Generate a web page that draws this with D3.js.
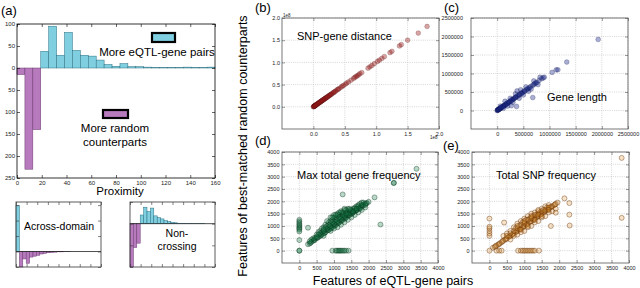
<!DOCTYPE html>
<html>
<head>
<meta charset="utf-8">
<script src="https://cdn.jsdelivr.net/npm/d3@7"></script>
<style>
body { margin: 0; background: #fff; }
svg { display: block; font-family: "Liberation Sans", Arial, sans-serif; }
</style>
</head>
<body>
<svg id="fig" width="640" height="288"></svg>
<script>
// (a) proximity histogram, positive = more eQTL-gene pairs, negative = more random counterparts
const binWidth = 6.4;
const proximityCounts = [-15, -230, -140, 38, 95, 29, 81, 40, 29, 27, 18, 8, 4, 10, 3, 3, 2, 1, 1, 1, 1, 2, 1, 1, 2];
const acrossCounts = [148, -50, -24, -38, -18, -15, -12, -8, -6, -4, -3, -2, -1, -1, -0.5, -0.5, 0, 0, 0, 0, 0, 0, 0, 0, 0];
const nonCrossCounts = [-100, -55, -45, 20, 38, 28, 36, 18, 14, 11, 7, 5, 3, 2, 1, 1, 0.5, 0.5, 0.3, 0.3, 0.2, 0.2, 0, 0, 0];
const proxXTicks = [0, 20, 40, 60, 80, 100, 120, 140, 160];
const proxYTicks = [-250, -200, -150, -100, -50, 0, 50, 100];

// (b)-(e) feature of eQTL-gene pair vs best-matched random counterpart
const distTicks = [0, 0.5, 1, 1.5, 2];
const lenTicks = [0, 500000, 1000000, 1500000, 2000000, 2500000];
const freqTicks = [0, 500, 1000, 1500, 2000, 2500, 3000, 3500, 4000];

const snpDistPts = [
  [0,0],[0.005,0.004],[0.01,0.012],[0.015,0.014],[0.02,0.02],[0.025,0.027],[0.03,0.03],[0.04,0.038],
  [0.05,0.05],[0.06,0.061],[0.07,0.07],[0.08,0.082],[0.09,0.09],[0.1,0.1],[0.11,0.112],[0.12,0.12],
  [0.13,0.13],[0.14,0.142],[0.15,0.15],[0.16,0.16],[0.175,0.176],[0.19,0.19],[0.2,0.2],[0.215,0.214],
  [0.23,0.232],[0.245,0.245],[0.26,0.26],[0.275,0.276],[0.29,0.29],[0.31,0.31],[0.33,0.33],[0.36,0.36],
  [0.38,0.385],[0.41,0.41],[0.44,0.44],[0.46,0.465],[0.48,0.48],[0.51,0.51],[0.53,0.535],[0.56,0.56],
  [0.6,0.6],[0.64,0.64],[0.66,0.665],[0.68,0.68],[0.7,0.7],[0.72,0.72],[0.74,0.745],[0.77,0.77],
  [0.87,0.87],[0.9,0.9],[0.93,0.93],[0.97,0.97],[1.02,1.02],[1.05,1.05],[1.09,1.09],[1.13,1.13],
  [1.22,1.22],[1.25,1.25],[1.37,1.37],[1.4,1.4],[1.5,1.5],[1.67,1.66],[1.81,1.81],
  [0.008,0.008],[0.018,0.017],[0.035,0.036],[0.045,0.046],[0.065,0.064],[0.085,0.086],[0.105,0.104],
  [0.125,0.126],[0.145,0.145],[0.168,0.167],[0.183,0.184],[0.205,0.206],[0.222,0.222],[0.252,0.25],
  [0.28,0.281],[0.32,0.32],[0.345,0.346],[0.395,0.395]
];

const geneLenPts = [
  [0,0],[5000,8000],[10000,10000],[15000,20000],[20000,18000],[25000,30000],[30000,28000],[40000,45000],
  [50000,50000],[60000,55000],[70000,75000],[80000,80000],[90000,95000],[100000,100000],[115000,110000],
  [130000,135000],[150000,145000],[165000,170000],[180000,180000],[200000,205000],[220000,215000],
  [240000,245000],[260000,255000],[280000,290000],[300000,300000],[320000,315000],[340000,345000],
  [360000,360000],[380000,385000],[400000,400000],[430000,420000],[450000,460000],[480000,480000],
  [500000,500000],[530000,520000],[560000,570000],[600000,600000],[640000,650000],[680000,680000],
  [720000,730000],[760000,760000],[800000,810000],[850000,860000],[880000,880000],
  [35000,30000],[55000,65000],[75000,70000],[110000,120000],[140000,130000],[170000,160000],
  [190000,200000],[230000,230000],[270000,265000],[310000,310000],[350000,355000],[420000,430000],
  [470000,470000],[520000,530000],[580000,580000],[620000,615000],[700000,700000],[740000,745000],
  [60000,120000],[120000,60000],[200000,120000],[250000,330000],[300000,220000],[350000,450000],
  [380000,530000],[420000,330000],[450000,560000],[500000,420000],[550000,640000],[600000,520000],
  [650000,580000],[700000,800000],[780000,700000],[820000,900000],[900000,900000],[150000,250000],
  [270000,130000],[370000,110000],[680000,350000],
  [1050000,1030000],[1130000,1100000],[1160000,1100000],[1330000,1310000],[1930000,1920000]
];

const geneFreqPts = [
  [250,260],[300,290],[350,360],[400,400],[450,440],[500,510],[550,550],[600,590],[650,660],[700,700],
  [750,740],[800,810],[850,850],[900,890],[950,960],[1000,1000],[1050,1040],[1100,1110],[1150,1150],
  [1200,1190],[1250,1260],[1300,1300],[1350,1340],[1400,1410],[1450,1450],[1500,1490],[1550,1560],
  [1600,1600],[1650,1640],[1700,1710],[1750,1750],[1800,1790],[1850,1860],[1900,1900],[1950,1930],[2000,1980],
  [325,320],[425,430],[525,520],[625,630],[725,720],[825,830],[925,920],[1025,1030],[1125,1120],
  [1225,1230],[1325,1320],[1425,1430],[1525,1520],[1625,1630],[1725,1720],[1825,1830],[1925,1920],
  [500,650],[550,750],[600,800],[650,900],[700,950],[750,1050],[800,1000],[850,1150],[900,1100],[950,1250],
  [1000,1200],[1050,1350],[1100,1300],[1150,1450],[1200,1400],[1250,1500],[1300,1450],[1350,1550],
  [1400,1600],[1450,1550],[1500,1650],[1550,1700],[1600,1750],[1650,1800],[1700,1850],[1750,1900],
  [1800,1950],[1850,1950],[700,600],[900,800],[1100,950],[1300,1150],[1500,1350],[1700,1550],[1900,1750],
  [800,1200],[900,1350],[1000,1450],[1100,1500],[1200,1550],[1300,1650],[1400,1700],[1000,900],
  [1200,1050],[1400,1250],[1600,1450],[1800,1650],[650,750],[750,850],[850,950],[950,1050],[1050,1150],
  [1150,1250],[1250,1350],[1350,1450],[1450,1500],[1550,1550],[1650,1650],[1750,1700],[400,500],
  [350,450],[300,380],
  [600,700],[700,800],[800,900],[900,1000],[1000,1100],[1100,1200],[1200,1300],[1300,1400],[1400,1500],
  [1500,1600],[1600,1700],[1700,1800],[1800,1850],[1900,1850],[750,950],[850,1050],[950,1150],
  [1050,1250],[1150,1350],[1250,1450],[1350,1500],[1450,1650],[1550,1600],[1650,1700],[1000,1350],
  [1100,1450],[1200,1600],[1300,1700],[900,1200],[1250,1550],[1350,1650],[1450,1700],[1150,1550],
  [1050,1450],[950,1350],[700,850],[550,650],[450,520],[500,560],
  [0,0],[0,0],[0,1250],[0,1180],[0,1120],[0,1060],[0,1000],[0,950],[0,900],[0,850],[0,780],[0,430],
  [950,0],[1050,0],[1080,0],[1120,0],[1150,0],[1180,0],[1220,0],[1260,0],[1300,0],[1350,0],[1420,0],
  [250,930],[1250,2280],[2170,2160],[2340,1060],[2720,2740],[2730,2750],[3380,3320]
];

const snpFreqPts = [
  [100,120],[150,150],[200,210],[250,240],[300,300],[350,340],[400,410],[450,450],[500,500],[550,560],
  [600,600],[650,640],[700,710],[750,750],[800,800],[850,860],[900,900],[950,940],[1000,1010],[1050,1050],
  [1100,1100],[1150,1160],[1200,1200],[1250,1240],[1300,1310],[1350,1350],[1400,1400],[1450,1460],
  [1500,1500],[1550,1540],[1600,1610],[1650,1650],[1700,1700],[1750,1760],[1800,1800],[1850,1840],
  [1900,1900],[1950,1950],
  [175,180],[275,270],[375,380],[475,470],[575,580],[675,670],[775,780],[875,870],[975,980],[1075,1070],
  [1175,1180],[1275,1270],[1375,1380],[1475,1470],[1575,1580],[1675,1670],[1775,1780],[1875,1870],
  [400,600],[500,700],[600,800],[700,950],[800,1100],[900,1200],[1000,1300],[1100,1400],[1200,1500],
  [1300,1550],[1400,1600],[1500,1700],[1600,1800],[1700,1850],[600,450],[800,650],[1000,800],[1200,1000],
  [1400,1200],[1600,1400],[1800,1600],[1900,1700],[750,900],[850,1000],[950,1150],[1050,1250],
  [1150,1300],[1250,1400],[1350,1450],[1450,1550],[1550,1650],[1650,1750],[900,750],[1100,950],
  [1300,1150],[1500,1350],[1700,1550],[1000,1150],[1200,1350],[1400,1500],
  [500,600],[600,700],[700,800],[800,900],[900,1050],[1000,1100],[1100,1250],[1200,1300],[1300,1450],
  [1400,1450],[1500,1600],[1600,1650],[1700,1750],[700,600],[900,850],[1100,1000],[1300,1250],[1500,1400],
  [1700,1650],[800,1000],[1000,1200],[1200,1400],[1400,1650],
  [0,0],[0,600],[0,700],[0,800],[0,900],[0,970],[0,1300],
  [200,0],[280,0],[350,0],[820,0],[900,0],[950,0],[1000,0],[1050,0],[1100,0],[1150,0],[1200,0],
  [1250,0],[1300,0],[1420,0],
  [3790,3760],[3790,1330],[2300,1020],[2290,1930],[2290,1460],[1760,1000],[1900,1540],[2150,2120],[420,1140]
];

const svg = d3.select("#fig");

const cyan = "#7fcfe0", cyanEdge = "#2a6f80";
const purple = "#b77bbd", purpleEdge = "#6b3a70";

// inward ticks on all four sides, labels only left/bottom
function drawAxes(g, x, y, xt, yt, xfmt, yfmt, fs, ypad, color) {
    const box = [x.range()[0], x.range()[1], y.range()[1], y.range()[0]];
    const tidy = sel => {
        sel.select(".domain").remove();
        sel.selectAll("line").attr("stroke", color).attr("stroke-width", 0.6);
        sel.selectAll("text").attr("fill", "#222").attr("font-size", fs + "px")
            .attr("font-family", "Liberation Sans, Arial, sans-serif");
        sel.attr("font-size", null).attr("font-family", null);
    };
    g.append("g").attr("transform", `translate(0,${box[3]})`)
        .call(d3.axisBottom(x).tickValues(xt).tickSize(-3).tickPadding(3).tickFormat(xfmt)).call(tidy);
    g.append("g").attr("transform", `translate(0,${box[2]})`)
        .call(d3.axisTop(x).tickValues(xt).tickSize(-3).tickFormat("")).call(tidy);
    g.append("g").attr("transform", `translate(${box[0]},0)`)
        .call(d3.axisLeft(y).tickValues(yt).tickSize(-3).tickPadding(ypad).tickFormat(yfmt)).call(tidy);
    g.append("g").attr("transform", `translate(${box[1]},0)`)
        .call(d3.axisRight(y).tickValues(yt).tickSize(-3).tickFormat("")).call(tidy);
    g.append("rect")
        .attr("x", box[0]).attr("y", box[2])
        .attr("width", box[1] - box[0]).attr("height", box[3] - box[2])
        .attr("fill", "none").attr("stroke", color).attr("stroke-width", 0.8);
}

function drawBars(g, counts, x, y) {
    g.selectAll("rect.bar")
        .data(counts)
        .join("rect")
        .attr("class", "bar")
        .attr("x", (d, i) => x(i * binWidth))
        .attr("width", x(binWidth) - x(0))
        .attr("y", d => y(Math.max(d, 0)))
        .attr("height", d => Math.abs(y(d) - y(0)))
        .attr("fill", d => d >= 0 ? cyan : purple)
        .attr("stroke", d => d >= 0 ? cyanEdge : purpleEdge)
        .attr("stroke-width", 0.5);
}

// ---- (a) main histogram
const xA = d3.scaleLinear().domain([0, 160]).range([17, 215]);
const yA = d3.scaleLinear().domain([-250, 100]).range([178, 24]);
const gA = svg.append("g");
drawBars(gA, proximityCounts, xA, yA);
drawAxes(gA, xA, yA, proxXTicks, proxYTicks, d3.format("d"), d => Math.abs(d), 6, 2, "#000");

svg.append("text").attr("x", 1).attr("y", 15).attr("font-size", "13px").text("(a)");
svg.append("text").attr("x", 120).attr("y", 195).attr("text-anchor", "middle")
    .attr("font-size", "11.5px").text("Proximity");

// legend boxes
svg.append("rect").attr("x", 152).attr("y", 33).attr("width", 23).attr("height", 9)
    .attr("fill", cyan).attr("stroke", "#000").attr("stroke-width", 2.2);
svg.append("text").attr("x", 157).attr("y", 56).attr("text-anchor", "middle")
    .attr("font-size", "11.5px").text("More eQTL-gene pairs");
svg.append("rect").attr("x", 103).attr("y", 110).attr("width", 25).attr("height", 8)
    .attr("fill", purple).attr("stroke", "#000").attr("stroke-width", 2.2);
svg.append("text").attr("x", 115).attr("y", 132).attr("text-anchor", "middle")
    .attr("font-size", "11.5px").text("More random");
svg.append("text").attr("x", 115).attr("y", 146).attr("text-anchor", "middle")
    .attr("font-size", "11.5px").text("counterparts");

// ---- (a) insets
function drawInset(counts, x0, x1, yDom, yt, label) {
    const x = d3.scaleLinear().domain([0, 160]).range([x0, x1]);
    const y = d3.scaleLinear().domain(yDom).range([267, 202]);
    const g = svg.append("g");
    drawBars(g, counts, x, y);
    g.append("line").attr("x1", x0).attr("x2", x1).attr("y1", y(0)).attr("y2", y(0))
        .attr("stroke", "#222").attr("stroke-width", 0.8);
    drawAxes(g, x, y, proxXTicks, yt, "", "", 5, 2, "#333");
    label.forEach(l => {
        g.append("text").attr("x", l.x).attr("y", l.y).attr("text-anchor", "middle")
            .attr("font-size", "10.5px").text(l.t);
    });
}
drawInset(acrossCounts, 16, 101, [-50, 160], [-50, 0, 50, 100, 150],
    [{ t: "Across-domain", x: 59, y: 230 }]);
drawInset(nonCrossCounts, 130, 215, [-100, 50], [-100, -50, 0, 50],
    [{ t: "Non-", x: 177, y: 237 }, { t: "crossing", x: 177, y: 250 }]);

// ---- scatter panels
function drawScatter(box, xDom, yDom, ticks, fmt, pts, st, ypad) {
    const x = d3.scaleLinear().domain(xDom).range([box.x0, box.x1]);
    const y = d3.scaleLinear().domain(yDom).range([box.y1, box.y0]);
    const g = svg.append("g");
    g.selectAll("line.gx").data(ticks).join("line").attr("class", "gx")
        .attr("x1", d => x(d)).attr("x2", d => x(d)).attr("y1", box.y0).attr("y2", box.y1)
        .attr("stroke", "#bbb").attr("stroke-width", 0.6).attr("stroke-dasharray", "1,1.2");
    g.selectAll("line.gy").data(ticks).join("line").attr("class", "gy")
        .attr("y1", d => y(d)).attr("y2", d => y(d)).attr("x1", box.x0).attr("x2", box.x1)
        .attr("stroke", "#bbb").attr("stroke-width", 0.6).attr("stroke-dasharray", "1,1.2");
    g.selectAll("circle").data(pts).join("circle")
        .attr("cx", d => x(d[0]))
        .attr("cy", d => y(d[1]))
        .attr("r", st.r)
        .attr("fill", st.fill).attr("fill-opacity", st.fo)
        .attr("stroke", st.stroke).attr("stroke-opacity", st.so).attr("stroke-width", 0.7);
    drawAxes(g, x, y, ticks, ticks, fmt, fmt, 5.5, ypad, "#555");
    return g;
}

drawScatter({ x0: 282, x1: 439, y0: 18, y1: 129 }, [-0.5, 2], [-0.5, 2], distTicks, d3.format(".1f"),
    snpDistPts, { r: 2.4, fill: "#9a1c1c", fo: 0.4, stroke: "#4a0606", so: 0.3 }, 2);
drawScatter({ x0: 471, x1: 628, y0: 18, y1: 129 }, [-500000, 2500000], [-500000, 2500000], lenTicks, d3.format("d"),
    geneLenPts, { r: 2.4, fill: "#1c2a88", fo: 0.38, stroke: "#0a1050", so: 0.35 }, 8);
drawScatter({ x0: 282, x1: 438, y0: 152, y1: 263 }, [-500, 4000], [-500, 4000], freqTicks, d3.format("d"),
    geneFreqPts, { r: 2.5, fill: "#157a45", fo: 0.3, stroke: "#06331a", so: 0.55 }, 2.5);
drawScatter({ x0: 472, x1: 629, y0: 152, y1: 263 }, [-500, 4000], [-500, 4000], freqTicks, d3.format("d"),
    snpFreqPts, { r: 2.5, fill: "#d88a28", fo: 0.25, stroke: "#6a3206", so: 0.6 }, 2.5);

// panel letters, offsets and in-panel labels
[["(b)", 255, 12], ["(c)", 444, 12], ["(d)", 255, 145], ["(e)", 443, 150]].forEach(p => {
    svg.append("text").attr("x", p[1]).attr("y", p[2]).attr("font-size", "13px").text(p[0]);
});
svg.append("text").attr("x", 283).attr("y", 17).attr("font-size", "4.5px").attr("fill", "#222").text("1e8");
svg.append("text").attr("x", 430).attr("y", 139).attr("font-size", "4.5px").attr("fill", "#222").text("1e8");

svg.append("text").attr("x", 297).attr("y", 40).attr("font-size", "11px").text("SNP-gene distance");
svg.append("text").attr("x", 547).attr("y", 101).attr("font-size", "11px").text("Gene length");
svg.append("text").attr("x", 297).attr("y", 179).attr("font-size", "11px").text("Max total gene frequency");
svg.append("text").attr("x", 496).attr("y", 179).attr("font-size", "11px").text("Total SNP frequency");

svg.append("text")
    .attr("transform", "translate(247,146) rotate(-90)")
    .attr("text-anchor", "middle")
    .attr("font-size", "12.5px")
    .text("Features of best-matched random counterparts");
svg.append("text").attr("x", 393).attr("y", 285).attr("text-anchor", "middle")
    .attr("font-size", "12.5px").text("Features of eQTL-gene pairs");
</script>
</body>
</html>
